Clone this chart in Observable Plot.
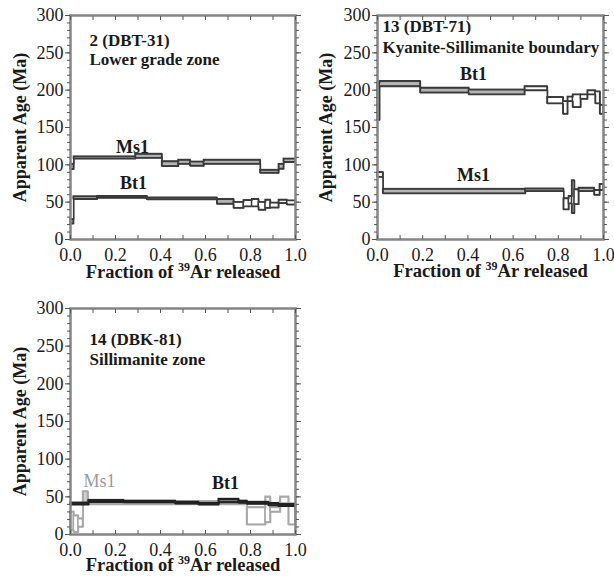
<!DOCTYPE html>
<html><head><meta charset="utf-8">
<script src="https://cdn.jsdelivr.net/npm/d3@7"></script>
<script src="https://cdn.jsdelivr.net/npm/@observablehq/plot@0.6"></script>
<style>
body{margin:0;background:#fff}
#wrap{position:relative;width:614px;height:581px;overflow:hidden}
#wrap svg{position:absolute}
</style>
</head><body><div id="wrap"></div>
<script>
// ---- tick labels ----
const yTicks = [0, 50, 100, 150, 200, 250, 300];
const yMinor = [0,10,20,30,40,50,60,70,80,90,100,110,120,130,140,150,160,170,180,190,200,210,220,230,240,250,260,270,280,290,300];
const xTicks = [0, 0.2, 0.4, 0.6, 0.8, 1.0];
const xMinor = [0, 0.1, 0.2, 0.3, 0.4, 0.5, 0.6, 0.7, 0.8, 0.9, 1.0];
const yLabel = "Apparent Age (Ma)";
const xLabelParts = ["Fraction of ", "39", "Ar released"];

// ---- Panel 1: 2 (DBT-31) ----  (plateau: 1 = step counted in plateau, shaded)
const p1Title = ["2 (DBT-31)", "Lower grade zone"];
const p1MsStart   = [0, 0.015, 0.289, 0.407, 0.48, 0.533, 0.593, 0.844, 0.926, 0.948];
const p1MsLo      = [94, 108, 109, 98, 101, 98.5, 101, 89, 94.5, 103.5];
const p1MsHi      = [101, 111, 114.5, 104.5, 106.5, 104, 106.5, 93, 101, 108];
const p1MsPlateau = [1, 1, 1, 1, 1, 1, 1, 1, 1, 1];
const p1BtStart   = [0, 0.014, 0.119, 0.341, 0.652, 0.726, 0.770, 0.807, 0.837, 0.867, 0.889, 0.926, 0.963];
const p1BtLo      = [21, 54, 55.5, 53.5, 47.5, 42, 44, 44, 39.5, 42, 42.5, 48.5, 46.5];
const p1BtHi      = [27, 57.5, 58, 56, 54, 50, 52.5, 54, 50, 53, 49, 53, 52];
const p1BtPlateau = [1, 1, 1, 1, 1, 0, 0, 0, 0, 0, 0, 0, 0];
const p1LabelText = ["Ms1", "Bt1"];
const p1LabelX    = [0.276, 0.28];
const p1LabelAge  = [116.5, 68.3];

// ---- Panel 2: 13 (DBT-71) ----
const p2Title = ["13 (DBT-71)", "Kyanite-Sillimanite boundary"];
const p2BtStart   = [0, 0.01, 0.19, 0.405, 0.652, 0.752, 0.822, 0.842, 0.865, 0.90, 0.93, 0.965, 0.985];
const p2BtLo      = [160, 205, 196.5, 194, 199.5, 182, 168, 185, 177, 188, 194, 182, 168];
const p2BtHi      = [210, 212, 203, 200.5, 205, 190.5, 185, 191, 194, 194, 199.5, 198, 180];
const p2BtPlateau = [1, 1, 1, 1, 0, 0, 0, 0, 0, 0, 0, 0, 0];
const p2MsStart   = [0, 0.025, 0.655, 0.824, 0.847, 0.861, 0.872, 0.891, 0.96, 0.984];
const p2MsLo      = [83.5, 61.5, 64.5, 40, 48, 35, 47, 64.5, 59.5, 66];
const p2MsHi      = [90, 67.5, 68, 55, 58, 79, 67, 69, 66, 74];
const p2MsPlateau = [0, 1, 1, 0, 0, 0, 0, 1, 0, 0];
const p2LabelText = ["Bt1", "Ms1"];
const p2LabelX    = [0.425, 0.425];
const p2LabelAge  = [213, 79];

// ---- Panel 3: 14 (DBK-81) ----
const p3Title = ["14 (DBK-81)", "Sillimanite zone"];
const p3MsStart   = [0, 0.015, 0.035, 0.056, 0.078, 0.785, 0.867, 0.889, 0.933, 0.97];
const p3MsLo      = [6, 3, 10, 42, 40, 13, 16, 30, 41, 13];
const p3MsHi      = [30, 25, 21, 57, 44, 36, 50, 36, 50, 41];
const p3MsPlateau = [0, 0, 0, 1, 1, 0, 0, 0, 0, 0];
const p3BtStart   = [0, 0.081, 0.237, 0.467, 0.57, 0.659, 0.748, 0.785, 0.881, 0.926];
const p3BtLo      = [39.5, 43, 42.5, 41, 39.5, 42.5, 42, 40.5, 38.5, 37.5];
const p3BtHi      = [42, 45.5, 44.5, 43, 41.5, 47, 44.5, 43, 41.5, 40];
const p3BtPlateau = [1, 1, 1, 1, 1, 1, 1, 1, 1, 1];
const p3LabelText = ["Ms1", "Bt1"];
const p3LabelX    = [0.129, 0.689];
const p3LabelAge  = [62.9, 61];

// ---- helpers ----
function table(starts, lo, hi, plateau) {
  return starts.map((x0, i) => ({x0, x1: i + 1 < starts.length ? starts[i + 1] : 1, lo: lo[i], hi: hi[i], p: plateau[i]}));
}
function stepPts(starts, lo, hi) {
  const pts = starts.map((x, i) => ({x, lo: lo[i], hi: hi[i]}));
  pts.push({x: 1, lo: lo[lo.length - 1], hi: hi[hi.length - 1]});
  return pts;
}
function series(starts, lo, hi, plateau, stroke, fill, sw) {
  const t = table(starts, lo, hi, plateau), p = stepPts(starts, lo, hi);
  return [
    Plot.rect(t, {x1: "x0", x2: "x1", y1: "lo", y2: "hi", fill: d => d.p ? fill : "white", stroke, strokeWidth: sw}),
    Plot.lineY(p, {x: "x", y: "hi", curve: "step-after", stroke, strokeWidth: sw}),
    Plot.lineY(p, {x: "x", y: "lo", curve: "step-after", stroke, strokeWidth: sw})
  ];
}
const FONT = "'Liberation Serif', 'Times New Roman', serif";
const TXT = "#1a1a1a";

function panel(cfg) {
  const labels = cfg.labelText.map((t, i) => ({t, x: cfg.labelX[i], y: cfg.labelAge[i]}));
  const W = 307;
  const plot = Plot.plot({
    width: W, height: cfg.height,
    marginLeft: cfg.ml, marginRight: cfg.mr, marginTop: cfg.mt, marginBottom: cfg.mb,
    style: {fontFamily: FONT, color: TXT, background: "transparent", overflow: "visible"},
    x: {domain: [0, 1]},
    y: {domain: [0, 300]},
    marks: [
      ...cfg.back,
      ...cfg.front,
      Plot.text(labels.filter(d => !(cfg.greyLabel && d.t === cfg.greyLabel)), {x: "x", y: "y", text: "t", fontFamily: FONT, fontWeight: "bold", fontSize: 18, lineAnchor: "bottom", fill: TXT}),
      cfg.greyLabel ? Plot.text(labels.filter(d => d.t === cfg.greyLabel), {x: "x", y: "y", text: "t", fontFamily: FONT, fontSize: 18, lineAnchor: "bottom", fill: "#9a9a9a"}) : null,
      Plot.text([cfg.title[0]], {text: d => d, frameAnchor: "top-left", dx: cfg.tdx, dy: cfg.tdy1, lineAnchor: "bottom", textAnchor: "start", fontFamily: FONT, fontWeight: "bold", fontSize: 17, fill: TXT}),
      Plot.text([cfg.title[1]], {text: d => d, frameAnchor: "top-left", dx: cfg.tdx, dy: cfg.tdy2, lineAnchor: "bottom", textAnchor: "start", fontFamily: FONT, fontWeight: "bold", fontSize: 17, fill: TXT}),
      Plot.frame({stroke: "#858585", strokeWidth: 2.5}),
      Plot.axisY(yMinor, {anchor: "left", tickSize: 3, tickFormat: () => "", label: null, stroke: "#555"}),
      Plot.axisY(yTicks, {anchor: "left", tickSize: 5, tickPadding: 2, fontSize: 18, fontFamily: FONT, label: null, stroke: "#555", tickFormat: d => String(d)}),
      Plot.axisY(yMinor, {anchor: "right", tickSize: 3, tickFormat: () => "", label: null, stroke: "#555"}),
      Plot.axisY(yTicks, {anchor: "right", tickSize: 5, tickFormat: () => "", label: null, stroke: "#555"}),
      Plot.axisX(xMinor, {anchor: "bottom", tickSize: 4, dy: -4, tickFormat: () => "", label: null, stroke: "#555"}),
      Plot.axisX(xMinor, {anchor: "top", tickSize: 4, dy: 4, tickFormat: () => "", label: null, stroke: "#555"}),
      Plot.axisX(xTicks, {anchor: "bottom", tickSize: 0, tickPadding: 9, fontSize: 18, fontFamily: FONT, label: null, tickFormat: d3.format(".1f")}),
      Plot.text([yLabel], {text: d => d, frameAnchor: "left", textAnchor: "middle", dx: cfg.ydx, rotate: -90, fontFamily: FONT, fontWeight: "bold", fontSize: 18, fill: TXT}),
      Plot.text([xLabelParts.join("")], {text: d => d, frameAnchor: "bottom", textAnchor: "middle", dy: cfg.xdy, lineAnchor: "bottom", fontFamily: FONT, fontWeight: "bold", fontSize: 18.5, fill: TXT})
    ]
  });
  plot.style.left = cfg.left + "px";
  plot.style.top = cfg.top + "px";
  document.getElementById("wrap").appendChild(plot);
}

const DARK = "#3a3a3a", FILL = "#b4b4b4";

panel({
  left: 0, top: 0, height: 290, ml: 70, mr: 12, mt: 15, mb: 51,
  title: p1Title, tdx: 19, tdy1: 30, tdy2: 49, ydx: -50, xdy: 38,
  labelText: p1LabelText, labelX: p1LabelX, labelAge: p1LabelAge,
  back: series(p1MsStart, p1MsLo, p1MsHi, p1MsPlateau, DARK, FILL, 1.4),
  front: series(p1BtStart, p1BtLo, p1BtHi, p1BtPlateau, DARK, FILL, 1.4)
});
panel({
  left: 307, top: 0, height: 290, ml: 70, mr: 11, mt: 15, mb: 51,
  title: p2Title, tdx: 5, tdy1: 16, tdy2: 37, ydx: -51, xdy: 37,
  labelText: p2LabelText, labelX: p2LabelX, labelAge: p2LabelAge,
  back: series(p2MsStart, p2MsLo, p2MsHi, p2MsPlateau, DARK, FILL, 1.4),
  front: series(p2BtStart, p2BtLo, p2BtHi, p2BtPlateau, DARK, FILL, 1.4)
});
panel({
  left: 0, top: 290, height: 291, ml: 70, mr: 12, mt: 18, mb: 47,
  title: p3Title, tdx: 19, tdy1: 36, tdy2: 56, ydx: -50, xdy: 36,
  labelText: p3LabelText, labelX: p3LabelX, labelAge: p3LabelAge, greyLabel: "Ms1",
  back: series(p3MsStart, p3MsLo, p3MsHi, p3MsPlateau, "#a8a8a8", "#cfcfcf", 1.6),
  front: series(p3BtStart, p3BtLo, p3BtHi, p3BtPlateau, "#222", "#777", 1.6)
});

// superscript "39" in the x-axis titles
const full = xLabelParts.join("");
document.querySelectorAll("#wrap svg text").forEach(t => {
  if (t.textContent === full) {
    t.textContent = "";
    const ns = "http://www.w3.org/2000/svg";
    const a = document.createElementNS(ns, "tspan"); a.textContent = xLabelParts[0];
    const b = document.createElementNS(ns, "tspan"); b.textContent = xLabelParts[1];
    b.setAttribute("font-size", "12"); b.setAttribute("dy", "-7");
    const c = document.createElementNS(ns, "tspan"); c.textContent = xLabelParts[2];
    c.setAttribute("dy", "7");
    t.append(a, b, c);
  }
});
</script>
</body></html>
